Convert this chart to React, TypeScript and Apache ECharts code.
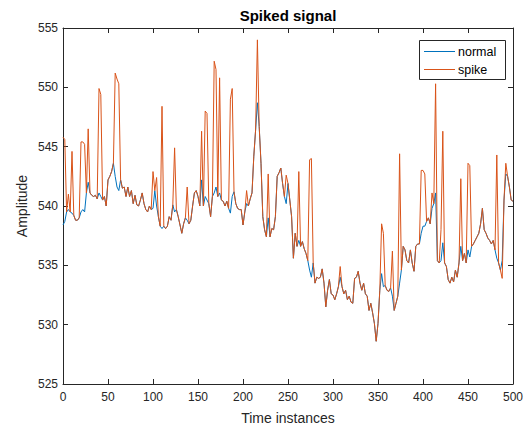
import React, { useEffect, useRef } from "react";
import * as echarts from "echarts";

const timeStep = 2;

// normal signal, t = 0, 2, 4, ..., 500
const normalValues = [
  538.4, 538.7, 539.5, 539.7, 539.5, 539.4, 539.2, 538.8, 538.8, 539.0,
  539.5, 539.7, 539.5, 541.1, 542.0, 541.1, 540.9, 540.8, 540.9, 540.6,
  541.1, 540.8, 540.5, 540.8, 540.0, 542.2, 542.5, 542.9, 543.6, 542.5,
  541.6, 541.3, 542.2, 541.5, 541.6, 540.8, 541.6, 540.8, 541.3, 540.2,
  540.9, 540.1, 540.0, 540.5, 541.1, 540.2, 539.7, 539.5, 540.0, 539.7,
  539.8,
  541.3, 540.0, 539.1, 538.3, 538.1, 538.3, 538.1, 538.3, 539.1, 538.8,
  540.1, 539.5, 539.7, 539.1, 538.4, 537.7, 538.5, 539.0, 538.8, 538.5,
  538.8, 540.0, 541.1, 541.3, 540.8, 540.0, 542.2, 540.0, 540.8, 540.5,
  540.2, 539.1, 540.8, 541.1, 541.6, 540.8, 541.1, 540.5, 540.4, 540.0,
  540.4, 539.8, 539.4, 540.8, 541.2, 540.2, 539.8, 539.7, 539.7, 538.4,
  539.5, 540.2, 540.0, 540.6, 541.1, 544.2, 546.4, 548.7, 546.7, 543.6,
  539.1, 538.0, 537.4, 539.0, 537.4, 538.1, 538.0, 539.1, 542.5, 542.8,
  543.2, 541.9, 540.8, 540.2, 541.9, 540.5, 539.1, 535.6, 537.7, 536.6,
  537.1, 536.6, 537.0, 536.4, 536.0, 535.4, 534.6, 534.0, 535.2, 533.5,
  534.0, 533.9, 534.0, 534.7, 533.5, 531.5, 532.9, 533.8, 532.6, 532.5,
  532.1, 532.6, 533.2, 534.0, 533.2, 532.6, 532.9, 532.1, 532.4, 531.9,
  531.8, 533.9, 534.0, 534.5, 533.5, 532.9, 533.5, 532.6, 532.4, 531.2,
  531.8, 531.0, 530.1, 528.6, 530.1, 532.9, 534.3, 533.2, 533.3, 532.9,
  532.8, 533.1, 532.4, 531.2, 531.8, 532.4, 533.5, 534.6, 536.6, 536.3,
  535.4, 535.2, 536.3, 535.2, 534.5, 536.6, 536.8, 536.8, 537.7, 538.3,
  538.3, 538.7, 539.0, 538.5, 539.8, 540.2, 541.1, 535.4, 535.2, 535.4,
  536.9, 535.2, 534.9, 533.8, 533.5, 534.0, 533.6, 534.6, 534.0, 535.2,
  536.6, 535.4, 536.0, 535.2, 536.3, 535.7, 536.6, 536.8, 537.1, 537.4,
  537.7, 538.5, 539.8, 538.0, 537.7, 537.3, 537.1, 536.8, 537.1, 536.3,
  535.6, 535.2, 534.6, 535.4, 540.5, 542.7, 542.5, 541.6, 540.5, 540.4,
];

// instants where the spiked signal departs from the normal one
const spikeTimes = [
  0, 2, 6, 10, 20, 22, 24, 28, 40, 42, 58, 60, 62, 100, 104, 110, 124, 138,
  154, 158, 160, 168, 170, 174, 186, 188, 204, 216, 228, 248, 262, 274, 276,
  308, 354, 356, 366, 374, 398, 400, 402, 410, 414, 420, 422, 442, 450, 452,
  482, 488, 492,
];
const spikeValues = [
  545.8, 545.6, 541.0, 544.6, 545.4, 545.4, 545.2, 546.5, 549.9, 549.4, 551.2,
  550.7, 550.3, 542.9, 542.4, 548.4, 544.9, 541.6, 546.3, 548.0, 547.8, 552.2,
  551.5, 550.8, 549.0, 549.9, 541.3, 554.0, 542.7, 542.6, 542.9, 543.9, 544.0,
  534.9, 538.5, 537.7, 536.2, 544.4, 543.0, 543.0, 542.7, 541.1, 550.3, 538.0,
  546.3, 542.3, 543.6, 543.4, 544.3, 533.9, 543.6,
];

const seriesNames = ["normal", "spike"];
const seriesColors = ["#0072BD", "#D95319"];

const xMin = 0;
const xMax = 500;
const xInterval = 50;
const yMin = 525;
const yMax = 555;
const yInterval = 5;

export default function App() {
  const ref = useRef<HTMLDivElement>(null);

  useEffect(() => {
    if (!ref.current) return;
    const chart = echarts.init(ref.current, undefined, { renderer: "svg" });

    const normalData = normalValues.map((v, i) => [i * timeStep, v]);
    const spikeMap = new Map<number, number>();
    spikeTimes.forEach((t, i) => spikeMap.set(t, spikeValues[i]));
    const spikeData = normalValues.map((v, i) => {
      const t = i * timeStep;
      return [t, spikeMap.has(t) ? (spikeMap.get(t) as number) : v];
    });

    const font = "'Liberation Sans', Arial, Helvetica, sans-serif";
    const axisColor = "#262626";

    const baseAxis = {
      type: "value" as const,
      axisLine: { show: true, onZero: false, lineStyle: { color: axisColor, width: 1 } },
      axisTick: { show: true, inside: true, length: 5, lineStyle: { color: axisColor, width: 1 } },
      splitLine: { show: false },
    };

    const gridLeft = 63;
    const gridRight = 14;
    const gridTop = 28;
    const gridBottom = 45;
    const W = 527;
    const H = 429;

    chart.setOption({
      animation: false,
      backgroundColor: "#ffffff",
      grid: { left: gridLeft, right: gridRight, top: gridTop, bottom: gridBottom },
      xAxis: [
        {
          ...baseAxis,
          position: "bottom",
          min: xMin,
          max: xMax,
          interval: xInterval,
          axisLabel: { color: axisColor, fontSize: 12, fontFamily: font, margin: 7 },
        },
        {
          ...baseAxis,
          position: "top",
          min: xMin,
          max: xMax,
          interval: xInterval,
          axisLabel: { show: false },
        },
      ],
      yAxis: [
        {
          ...baseAxis,
          position: "left",
          min: yMin,
          max: yMax,
          interval: yInterval,
          axisLabel: { color: axisColor, fontSize: 12, fontFamily: font, margin: 5 },
        },
        {
          ...baseAxis,
          position: "right",
          min: yMin,
          max: yMax,
          interval: yInterval,
          axisLabel: { show: false },
        },
      ],
      series: [
        {
          name: seriesNames[0],
          type: "line",
          data: normalData,
          symbol: "none",
          color: seriesColors[0],
          lineStyle: { color: seriesColors[0], width: 1 },
          xAxisIndex: 0,
          yAxisIndex: 0,
        },
        {
          name: seriesNames[1],
          type: "line",
          data: spikeData,
          symbol: "none",
          color: seriesColors[1],
          lineStyle: { color: seriesColors[1], width: 1 },
          xAxisIndex: 0,
          yAxisIndex: 0,
        },
      ],
      graphic: [
        {
          type: "text",
          x: (gridLeft + (W - gridRight)) / 2,
          y: 15,
          style: {
            text: "Spiked signal",
            fontFamily: font,
            fontSize: 15,
            fontWeight: "bold",
            fill: "#000000",
            textAlign: "center",
            textVerticalAlign: "middle",
          },
        },
        {
          type: "text",
          x: (gridLeft + (W - gridRight)) / 2,
          y: 418,
          style: {
            text: "Time instances",
            fontFamily: font,
            fontSize: 14,
            fill: axisColor,
            textAlign: "center",
            textVerticalAlign: "middle",
          },
        },
        {
          type: "text",
          x: 22,
          y: (gridTop + (H - gridBottom)) / 2,
          rotation: Math.PI / 2,
          style: {
            text: "Amplitude",
            fontFamily: font,
            fontSize: 14,
            fill: axisColor,
            textAlign: "center",
            textVerticalAlign: "middle",
          },
        },
        {
          type: "group",
          children: [
            {
              type: "rect",
              shape: { x: 419.5, y: 40.5, width: 86, height: 39 },
              style: { fill: "#ffffff", stroke: axisColor, lineWidth: 1 },
            },
            {
              type: "line",
              shape: { x1: 424, y1: 51.5, x2: 455, y2: 51.5 },
              style: { stroke: seriesColors[0], lineWidth: 1 },
            },
            {
              type: "line",
              shape: { x1: 424, y1: 69.5, x2: 455, y2: 69.5 },
              style: { stroke: seriesColors[1], lineWidth: 1 },
            },
            {
              type: "text",
              x: 458,
              y: 52,
              style: {
                text: seriesNames[0],
                fontFamily: font,
                fontSize: 12.5,
                fill: "#000000",
                textAlign: "left",
                textVerticalAlign: "middle",
              },
            },
            {
              type: "text",
              x: 458,
              y: 70,
              style: {
                text: seriesNames[1],
                fontFamily: font,
                fontSize: 12.5,
                fill: "#000000",
                textAlign: "left",
                textVerticalAlign: "middle",
              },
            },
          ],
        },
      ],
    });

    return () => {
      chart.dispose();
    };
  }, []);

  return (
    <div
      ref={ref}
      style={{ position: "fixed", left: 0, top: 0, width: 527, height: 429 }}
    />
  );
}
